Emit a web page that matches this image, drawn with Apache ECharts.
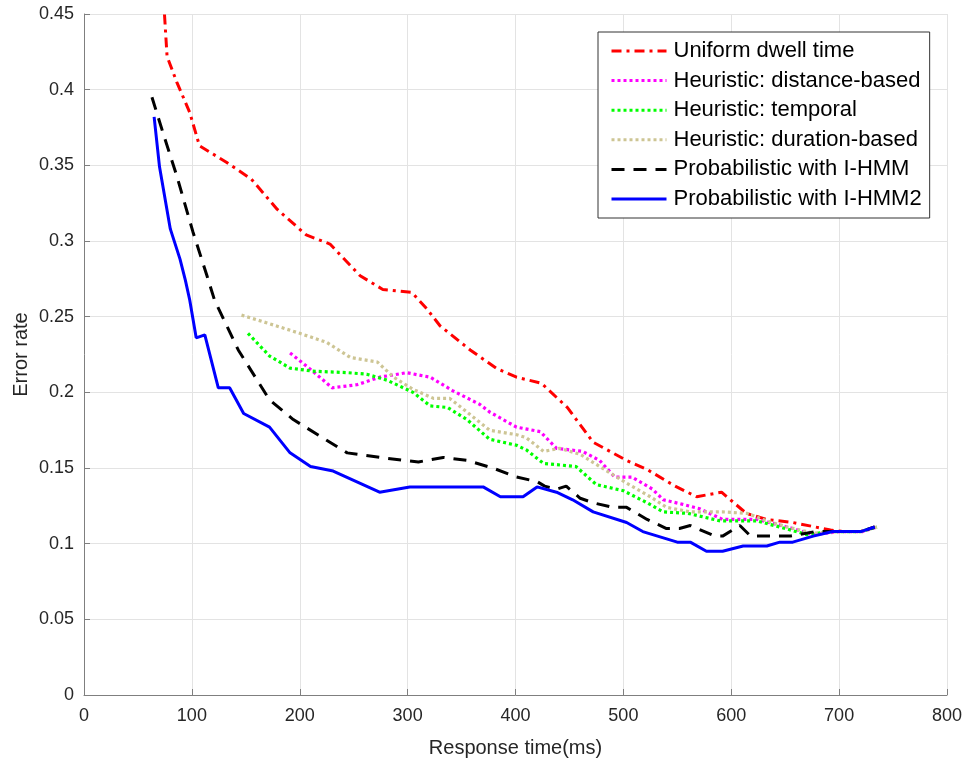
<!DOCTYPE html>
<html>
<head>
<meta charset="utf-8">
<script src="https://cdn.jsdelivr.net/npm/echarts@6/dist/echarts.min.js"></script>
<style>html,body{margin:0;padding:0;background:#fff}#c{width:966px;height:759px}</style>
</head>
<body>
<div id="c"></div>
<script>
var xTicks = [0,100,200,300,400,500,600,700,800];
var yTicks = [0,0.05,0.1,0.15,0.2,0.25,0.3,0.35,0.4,0.45];
var seriesNames = ['Uniform dwell time','Heuristic: distance-based','Heuristic: temporal','Heuristic: duration-based','Probabilistic with I-HMM','Probabilistic with I-HMM2'];

var uniform = [[72,0.48],[77,0.422],[86,0.405],[98,0.385],[107,0.363],[132,0.352],[155,0.341],[179,0.321],[206,0.304],[228,0.298],[256,0.277],[277,0.268],[304,0.266],[318,0.255],[330,0.244],[358,0.228],[382,0.216],[401,0.210],[424,0.206],[448,0.190],[472,0.167],[503,0.155],[522,0.149],[548,0.138],[568,0.131],[591,0.134],[614,0.120],[633,0.116],[657,0.114],[692,0.109],[705,0.108],[720,0.108],[733,0.111]];
var distance = [[191,0.226],[212,0.214],[230,0.203],[253,0.205],[274,0.210],[299,0.213],[321,0.210],[342,0.201],[367,0.192],[376,0.187],[401,0.177],[423,0.174],[438,0.163],[462,0.161],[478,0.155],[492,0.144],[508,0.144],[527,0.136],[537,0.129],[555,0.126],[571,0.123],[592,0.116],[624,0.116],[652,0.111],[676,0.106],[701,0.108],[722,0.108],[735,0.111]];
var temporal = [[152,0.239],[172,0.224],[191,0.216],[212,0.214],[244,0.213],[262,0.212],[281,0.208],[305,0.200],[321,0.191],[337,0.190],[355,0.182],[376,0.169],[401,0.165],[410,0.162],[426,0.153],[456,0.151],[475,0.139],[500,0.135],[522,0.127],[537,0.121],[560,0.120],[590,0.115],[624,0.115],[645,0.111],[670,0.106],[692,0.108],[720,0.108],[735,0.111]];
var duration = [[146,0.251],[169,0.246],[200,0.239],[225,0.233],[247,0.223],[272,0.220],[287,0.210],[305,0.202],[324,0.196],[339,0.196],[355,0.187],[376,0.175],[401,0.172],[410,0.170],[426,0.161],[441,0.163],[460,0.159],[478,0.151],[503,0.140],[525,0.131],[540,0.124],[562,0.121],[592,0.121],[615,0.120],[633,0.115],[652,0.111],[676,0.107],[700,0.108],[720,0.108],[735,0.111]];
var ihmm = [[63,0.395],[73,0.372],[86,0.343],[101,0.306],[114,0.277],[121,0.261],[143,0.228],[172,0.195],[194,0.182],[219,0.171],[244,0.160],[274,0.157],[310,0.154],[333,0.157],[355,0.155],[379,0.150],[401,0.144],[420,0.141],[427,0.138],[438,0.136],[447,0.138],[460,0.130],[472,0.127],[490,0.124],[503,0.124],[522,0.116],[540,0.110],[552,0.110],[562,0.112],[585,0.105],[592,0.105],[608,0.112],[618,0.105],[655,0.105],[678,0.108],[705,0.108],[720,0.108],[733,0.111]];
var ihmm2 = [[65,0.382],[70,0.349],[80,0.308],[89,0.288],[94,0.274],[98,0.261],[104,0.236],[112,0.238],[124.5,0.203],[135,0.203],[148,0.186],[172,0.177],[191,0.160],[210,0.151],[231,0.148],[274,0.134],[302,0.1375],[370,0.1375],[386,0.131],[407,0.131],[420,0.1375],[438,0.134],[453,0.129],[472,0.121],[503,0.114],[518,0.108],[550,0.101],[562,0.101],[577,0.095],[592,0.095],[611,0.0985],[633,0.0985],[645,0.101],[657,0.101],[676,0.105],[694,0.108],[720,0.108],[733,0.111]];

var FONT = '"Liberation Sans", Arial, sans-serif';
var chart = echarts.init(document.getElementById('c'), null, {renderer:'canvas'});

function mk(name, data, color, type, width) {
  return {
    name: name, type: 'line', data: data, showSymbol: false, symbol: 'none',
    clip: true, animation: false,
    lineStyle: {color: color, width: width, type: type, cap: 'butt'},
    itemStyle: {color: color}
  };
}

chart.setOption({
  backgroundColor: '#fff',
  animation: false,
  grid: {left: 84, right: 19, top: 14, bottom: 64, containLabel: false, outerBoundsMode: 'none'},
  xAxis: {
    type: 'value', min: 0, max: 800, interval: 100,
    name: 'Response time(ms)', nameLocation: 'middle', nameGap: 43, nameMoveOverlap: false,
    nameTextStyle: {fontFamily: FONT, fontSize: 20, color: '#262626'},
    axisLine: {show: true, lineStyle: {color: '#7f7f7f', width: 1}},
    axisTick: {show: true, inside: true, length: 6, lineStyle: {color: '#7f7f7f'}},
    axisLabel: {fontFamily: FONT, fontSize: 18, color: '#262626', margin: 12,
      formatter: function(v){ return xTicks.indexOf(v) >= 0 ? String(v) : ''; }},
    splitLine: {show: true, lineStyle: {color: '#e3e3e3', width: 1}}
  },
  yAxis: {
    type: 'value', min: 0, max: 0.45, interval: 0.05,
    name: 'Error rate', nameLocation: 'middle', nameGap: 53, nameMoveOverlap: false,
    nameTextStyle: {fontFamily: FONT, fontSize: 20, color: '#262626'},
    axisLine: {show: true, lineStyle: {color: '#7f7f7f', width: 1}},
    axisTick: {show: true, inside: true, length: 6, lineStyle: {color: '#7f7f7f'}},
    axisLabel: {fontFamily: FONT, fontSize: 18, color: '#262626', margin: 10,
      formatter: function(v){
        var r = Math.round(v*100)/100;
        for (var i=0;i<yTicks.length;i++) if (Math.abs(yTicks[i]-r)<1e-9) return String(yTicks[i]);
        return '';
      }},
    splitLine: {show: true, lineStyle: {color: '#e3e3e3', width: 1}}
  },
  legend: {
    orient: 'vertical', left: 598, top: 32,
    backgroundColor: '#fff', borderColor: '#333', borderWidth: 1,
    padding: [8, 8, 8, 12], itemGap: 7.6, itemWidth: 55, itemHeight: 20,
    itemStyle: {opacity: 0, borderWidth: 0},
    lineStyle: {width: 3},
    textStyle: {fontFamily: FONT, fontSize: 22, color: '#000', padding: [0,0,0,2]},
    data: seriesNames
  },
  series: [
    mk(seriesNames[0], uniform, '#ff0000', [10,5,3,5], 3),
    mk(seriesNames[1], distance, '#ff00ff', [3,3], 3.2),
    mk(seriesNames[2], temporal, '#00ff00', [3,3], 3.2),
    mk(seriesNames[3], duration, '#cdc594', [3,3], 3.2),
    mk(seriesNames[4], ihmm, '#000000', [13,9], 3),
    mk(seriesNames[5], ihmm2, '#0000ff', 'solid', 3)
  ]
});
</script>
</body>
</html>
